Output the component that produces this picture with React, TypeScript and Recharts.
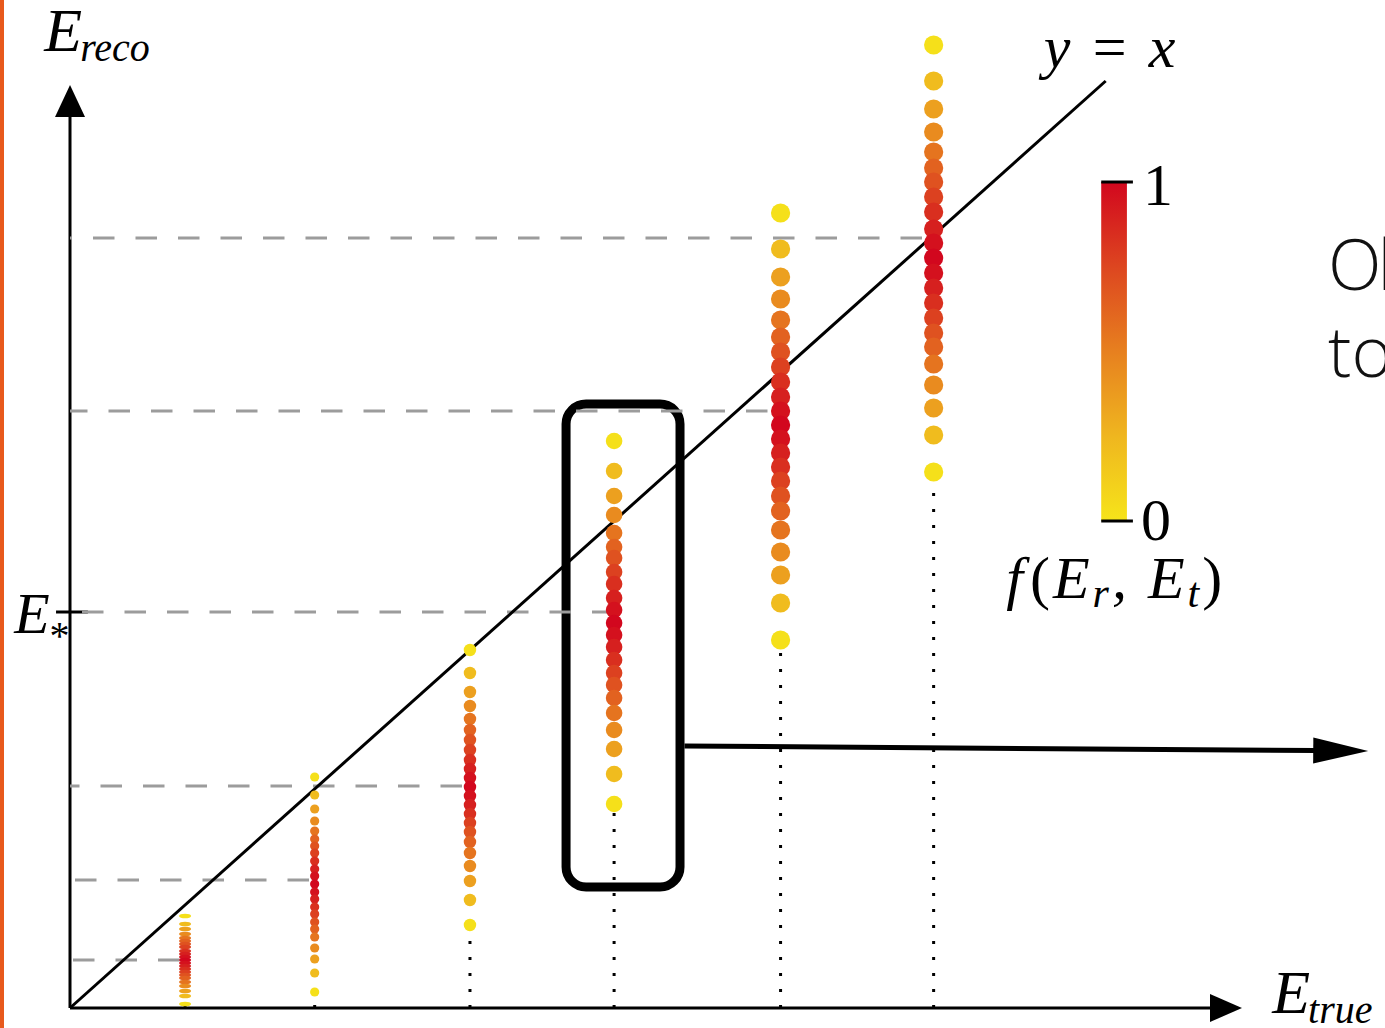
import React from 'react';
import {
  ScatterChart,
  Scatter,
  XAxis,
  YAxis,
  ReferenceLine,
  ReferenceArea,
  ReferenceDot,
} from 'recharts';

// True energies of the six sampled columns (E_true)
const E_TRUE = [103, 219, 358, 487, 636, 773];

// Reconstructed energies sampled in each column, top to bottom (E_reco)
const RECO_COL1 = [92, 84, 79, 74, 70, 67, 64, 61, 57, 54, 51, 48, 45, 42, 39, 36, 33, 30, 26, 22, 17, 12, 4];
const RECO_COL2 = [231, 213, 199, 187, 177, 169, 162, 155, 147, 139, 132, 124, 116, 109, 101, 94, 86, 79, 71, 60, 49, 35, 16];
const RECO_COL3 = [358, 335, 316, 302, 289, 278, 268, 258, 248, 239, 230, 221, 212, 203, 194, 185, 176, 166, 155, 142, 127, 108, 83];
const RECO_COL4 = [567, 537, 512, 493, 475, 461, 450, 436, 424, 410, 398, 385, 373, 361, 348, 335, 323, 310, 295, 278, 259, 234, 204];
const RECO_COL5 = [795, 759, 731, 709, 688, 671, 656, 641, 626, 611, 597, 583, 569, 555, 541, 527, 512, 497, 478, 456, 433, 405, 368];
const RECO_COL6 = [963, 927, 899, 876, 856, 840, 826, 811, 796, 779, 765, 750, 735, 720, 705, 690, 675, 661, 644, 623, 600, 573, 536];

// Response f(E_r, E_t) of each sample, in the same top-to-bottom order
const RESPONSE = [0.02, 0.22, 0.35, 0.45, 0.55, 0.63, 0.7, 0.77, 0.84, 0.9, 0.96, 1, 0.96, 0.9, 0.84, 0.77, 0.7, 0.63, 0.55, 0.45, 0.35, 0.22, 0.02];

// Reconstructed-energy guide level belonging to each column
const GUIDE_LEVELS = [48, 128, 222, 396, 597, 770];
const E_STAR = 396;

// ---- layout / styling ----
const X_DOMAIN: [number, number] = [0, 1177];
const Y_DOMAIN: [number, number] = [0, 1000];
const AXIS_X_END = 1049;
const AXIS_Y_END = 923;
const DIAGONAL_END = 927;

const MARKER_RX = [6, 4.6, 6.2, 8.3, 9.6, 9.6];
const MARKER_RY = [2.3, 4.6, 6.2, 8.3, 9.6, 9.6];
const GUIDE_DASH_OFFSETS = [39.5, 37.5, 12, 30.5, 4, 19.5];

const COLORBAR = { x1: 923, x2: 946, y1: 487, y2: 826 };
const FOCUS_BOX = { x1: 444, x2: 546, y1: 121, y2: 604 };
const POINTER = [{ x: 550, y: 262 }, { x: 1162, y: 257 }];

const MATH_FONT = '"Liberation Serif", "Times New Roman", serif';
const TEXT_FONT = '"Open Sans", "Noto Sans", sans-serif';

const RAMP: [number, [number, number, number]][] = [
  [0, [246, 228, 26]],
  [0.25, [239, 182, 31]],
  [0.5, [231, 128, 31]],
  [0.75, [221, 70, 32]],
  [1, [210, 7, 30]],
];

function responseColor(f: number): string {
  const v = Math.max(0, Math.min(1, f));
  for (let i = 1; i < RAMP.length; i++) {
    const [o1, c1] = RAMP[i];
    const [o0, c0] = RAMP[i - 1];
    if (v <= o1) {
      const t = (v - o0) / (o1 - o0);
      const c = c0.map((a, k) => Math.round(a + (c1[k] - a) * t));
      return `rgb(${c[0]},${c[1]},${c[2]})`;
    }
  }
  const c = RAMP[RAMP.length - 1][1];
  return `rgb(${c[0]},${c[1]},${c[2]})`;
}

const RECO_SAMPLES = [RECO_COL1, RECO_COL2, RECO_COL3, RECO_COL4, RECO_COL5, RECO_COL6];

const columns = E_TRUE.map((et, ci) => ({
  et,
  guide: GUIDE_LEVELS[ci],
  points: RECO_SAMPLES[ci].map((er, i) => ({ x: et, y: er, f: RESPONSE[i] })),
  lowest: Math.min(...RECO_SAMPLES[ci]),
}));

const noPoint = () => <g />;

const markerShape = (rx: number, ry: number) => (p: any) => (
  <ellipse cx={p.cx} cy={p.cy} rx={rx} ry={ry} fill={responseColor(p.payload.f)} />
);

const arrowShape = (len: number, half: number, width: number) => (p: any) => {
  const { x1, y1, x2, y2 } = p;
  const ang = Math.atan2(y2 - y1, x2 - x1);
  const bx = x2 - len * Math.cos(ang);
  const by = y2 - len * Math.sin(ang);
  const nx = -Math.sin(ang) * half;
  const ny = Math.cos(ang) * half;
  return (
    <g>
      <line x1={x1} y1={y1} x2={bx + Math.cos(ang) * 2} y2={by + Math.sin(ang) * 2} stroke="#000" strokeWidth={width} />
      <polygon points={`${x2},${y2} ${bx + nx},${by + ny} ${bx - nx},${by - ny}`} fill="#000" />
    </g>
  );
};

const colorbarShape = (p: any) => {
  const { x, y, width, height } = p;
  const stops = RAMP.map(([o, c]) => (
    <stop key={o} offset={o} stopColor={`rgb(${c[0]},${c[1]},${c[2]})`} />
  ));
  return (
    <g>
      <defs>
        <linearGradient id="responseRamp" x1="0" y1="1" x2="0" y2="0">
          {stops}
        </linearGradient>
      </defs>
      <rect x={x} y={y} width={width} height={height} fill="url(#responseRamp)" />
      <line x1={x} x2={x + width + 6} y1={y} y2={y} stroke="#000" strokeWidth={3} />
      <line x1={x} x2={x + width + 6} y1={y + height} y2={y + height} stroke="#000" strokeWidth={3} />
      <text x={x + width + 16} y={y + 23} fontFamily={MATH_FONT} fontSize={60} fill="#000">1</text>
      <text x={x + width + 14} y={y + height + 19} fontFamily={MATH_FONT} fontSize={60} fill="#000">0</text>
      <text x={x - 95} y={y + height + 77} fontFamily={MATH_FONT} fontSize={60} fontStyle="italic" fill="#000" letterSpacing={3}>
        f<tspan fontStyle="normal" dx={4}>(</tspan>E<tspan fontSize={42} dy={9}>r</tspan>
        <tspan dy={-9}>, E</tspan><tspan fontSize={42} dy={9}>t</tspan>
        <tspan dy={-9} fontStyle="normal">)</tspan>
      </text>
    </g>
  );
};

const focusBoxShape = (p: any) => (
  <rect x={p.x} y={p.y} width={p.width} height={p.height} rx={20} ry={20} fill="none" stroke="#000" strokeWidth={9} />
);

const mathLabel = (main: string, sub: string, size: number, subSize: number, subDy: number) => (p: any) => (
  <text x={p.cx} y={p.cy} fontFamily={MATH_FONT} fontStyle="italic" fontSize={size} fill="#000">
    {main}
    <tspan fontSize={subSize} dy={subDy} dx={-2}>{sub}</tspan>
  </text>
);

const identityLabel = (p: any) => (
  <g fontFamily={MATH_FONT} fontSize={60} fill="#000">
    <text x={p.cx + 4} y={p.cy} fontStyle="italic">y</text>
    <text x={p.cx + 53} y={p.cy}>=</text>
    <text x={p.cx + 109} y={p.cy} fontStyle="italic">x</text>
  </g>
);

const captionLabel = (p: any) => (
  <g fontFamily={TEXT_FONT} fontWeight={300} fontSize={70} fill="#111">
    <text x={p.cx} y={p.cy} letterSpacing={-4}>Ol</text>
    <text x={p.cx} y={p.cy + 87}>to</text>
  </g>
);

export default function App() {
  return (
    <div style={{ position: 'absolute', left: 0, top: 0, width: 1385, height: 1028, background: '#fff', overflow: 'hidden' }}>
      <div style={{ position: 'absolute', left: 0, top: 0, width: 4, height: 1028, background: '#e8591c' }} />
      <ScatterChart width={1385} height={1028} margin={{ top: 8, right: 0, bottom: 20, left: 70 }}>
        <XAxis type="number" dataKey="x" domain={X_DOMAIN} hide />
        <YAxis type="number" dataKey="y" domain={Y_DOMAIN} hide />

        {/* dashed guides from the E_reco axis to each column */}
        {columns.map((c, i) => (
          <Scatter
            key={`guide-${i}`}
            data={[{ x: 0, y: c.guide }, { x: c.et, y: c.guide }]}
            line={{ stroke: '#9c9c9c', strokeWidth: 3, strokeDasharray: '21.5 21', strokeDashoffset: GUIDE_DASH_OFFSETS[i] }}
            shape={noPoint}
            isAnimationActive={false}
          />
        ))}

        {/* dotted drops from each column to the E_true axis */}
        {columns.map((c, i) => (
          <Scatter
            key={`drop-${i}`}
            data={[{ x: c.et, y: 0 }, { x: c.et, y: c.lowest }]}
            line={{ stroke: '#000', strokeWidth: 3, strokeDasharray: '3 13' }}
            shape={noPoint}
            isAnimationActive={false}
          />
        ))}

        {/* y = x */}
        <Scatter
          data={[{ x: 0, y: 0 }, { x: DIAGONAL_END, y: DIAGONAL_END }]}
          line={{ stroke: '#000', strokeWidth: 3 }}
          shape={noPoint}
          isAnimationActive={false}
        />

        {/* sampled response columns */}
        {columns.map((c, i) => (
          <Scatter
            key={`col-${i}`}
            data={c.points}
            shape={markerShape(MARKER_RX[i], MARKER_RY[i])}
            isAnimationActive={false}
          />
        ))}

        {/* axes */}
        <ReferenceLine
          segment={[{ x: 0, y: 0 }, { x: AXIS_X_END, y: 0 }]}
          ifOverflow="visible"
          shape={arrowShape(32, 14, 3)}
        />
        <ReferenceLine
          segment={[{ x: 0, y: 0 }, { x: 0, y: AXIS_Y_END }]}
          ifOverflow="visible"
          shape={arrowShape(32, 15, 3)}
        />
        <ReferenceLine
          segment={[{ x: -12.5, y: E_STAR }, { x: 16, y: E_STAR }]}
          ifOverflow="visible"
          stroke="#000"
          strokeWidth={3}
        />

        {/* highlighted column and pointer */}
        <ReferenceArea {...FOCUS_BOX} ifOverflow="visible" shape={focusBoxShape} />
        <ReferenceLine segment={POINTER} ifOverflow="visible" shape={arrowShape(55, 13, 5)} />

        {/* response colour scale */}
        <ReferenceArea {...COLORBAR} ifOverflow="visible" shape={colorbarShape} />

        {/* labels */}
        <ReferenceDot x={-23} y={957} r={0} ifOverflow="visible" shape={mathLabel('E', 'reco', 62, 40, 10)} />
        <ReferenceDot x={1076} y={-5} r={0} ifOverflow="visible" shape={mathLabel('E', 'true', 62, 40, 10)} />
        <ReferenceDot x={-50} y={375} r={0} ifOverflow="visible" shape={(p: any) => (
          <text x={p.cx} y={p.cy} fontFamily={MATH_FONT} fontSize={58} fill="#000">
            <tspan fontStyle="italic">E</tspan>
            <tspan fontSize={40} dy={16}>*</tspan>
          </text>
        )} />
        <ReferenceDot x={868} y={941} r={0} ifOverflow="visible" shape={identityLabel} />
        <ReferenceDot x={1126} y={718} r={0} ifOverflow="visible" shape={captionLabel} />
      </ScatterChart>
    </div>
  );
}
